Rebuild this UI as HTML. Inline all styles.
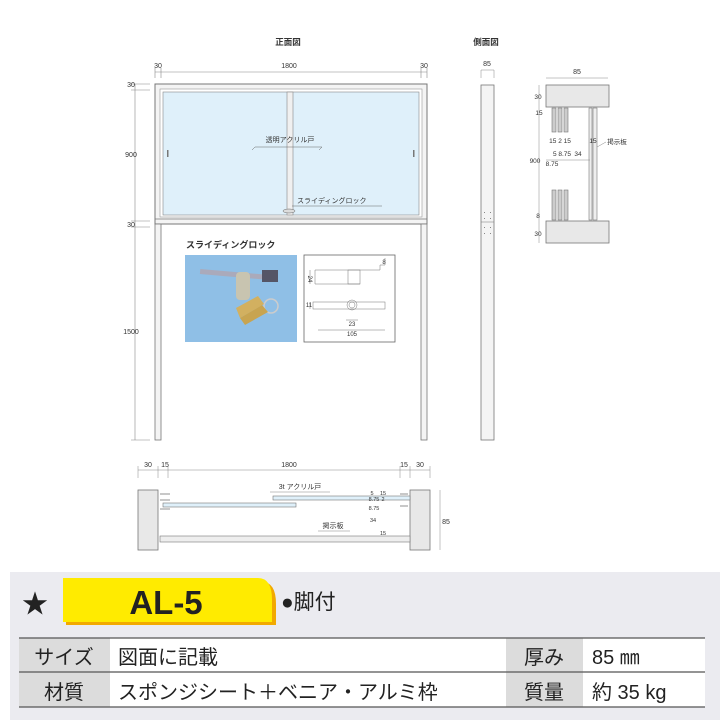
<!DOCTYPE html>
<html><head><meta charset="utf-8"><style>
html,body{margin:0;padding:0;background:#fff;width:720px;height:720px;overflow:hidden}
svg{display:block}
text{font-family:"Liberation Sans","Noto Sans CJK JP",sans-serif;fill:#333}
</style></head><body>
<svg width="720" height="720" viewBox="0 0 720 720" xmlns="http://www.w3.org/2000/svg">
<rect width="720" height="720" fill="#fff"/>
<!-- FRONT VIEW -->
<text x="288" y="45" font-size="8.5" text-anchor="middle" font-weight="bold">正面図</text>
<g stroke="#888" stroke-width="0.6" fill="none">
<line x1="155" y1="72" x2="427" y2="72"/>
<line x1="155" y1="68" x2="155" y2="78"/><line x1="161" y1="68" x2="161" y2="78"/>
<line x1="421" y1="68" x2="421" y2="78"/><line x1="427" y1="68" x2="427" y2="78"/>
<line x1="135" y1="84" x2="135" y2="440"/>
<line x1="131" y1="84" x2="150" y2="84"/><line x1="131" y1="90" x2="150" y2="90"/>
<line x1="131" y1="221" x2="150" y2="221"/><line x1="131" y1="227" x2="150" y2="227"/>
<line x1="131" y1="440" x2="150" y2="440"/>
</g>
<g font-size="7" text-anchor="middle">
<text x="158" y="68">30</text><text x="289" y="68">1800</text><text x="424" y="68">30</text>
<text x="131" y="87">30</text><text x="131" y="157">900</text><text x="131" y="227">30</text><text x="131" y="334">1500</text>
</g>
<!-- frame -->
<rect x="155" y="84" width="272" height="140" fill="#f4f4f4" stroke="#777" stroke-width="1"/>
<rect x="160" y="89" width="262" height="128" fill="#fff" stroke="#999" stroke-width="0.6"/>
<rect x="163" y="92" width="256" height="123" fill="#dff0fa" stroke="#888" stroke-width="0.6"/>
<rect x="287" y="92" width="6" height="123" fill="#f0f0f0" stroke="#888" stroke-width="0.6"/>
<line x1="155" y1="219" x2="427" y2="219" stroke="#777" stroke-width="0.8"/>
<rect x="167" y="150" width="1.5" height="7" fill="#777"/><rect x="413" y="150" width="1.5" height="7" fill="#777"/>
<text x="290" y="142" font-size="7" text-anchor="middle">透明アクリル戸</text>
<path d="M252 150 L255 147 L322 147 L319 150" stroke="#666" stroke-width="0.5" fill="none"/>
<text x="297" y="203" font-size="7">スライディングロック</text>
<line x1="292" y1="206" x2="382" y2="206" stroke="#666" stroke-width="0.5"/>
<ellipse cx="289" cy="211" rx="6" ry="2" fill="#ddd" stroke="#666" stroke-width="0.5"/>
<!-- legs -->
<rect x="155" y="224" width="6" height="216" fill="#f4f4f4" stroke="#777" stroke-width="0.8"/>
<rect x="421" y="224" width="6" height="216" fill="#f4f4f4" stroke="#777" stroke-width="0.8"/>
<!-- lock photo -->
<text x="186" y="248" font-size="9" font-weight="bold">スライディングロック</text>
<rect x="185" y="255" width="112" height="87" fill="#8fbfe6"/>
<rect x="200" y="272" width="70" height="5" fill="#aab" transform="rotate(5 235 274)"/>
<rect x="236" y="272" width="14" height="28" rx="4" fill="#c8c4b0"/>
<rect x="262" y="270" width="16" height="12" fill="#556"/>
<circle cx="271" cy="306" r="7" fill="none" stroke="#ccc" stroke-width="1.5"/>
<path d="M240 318 L262 305 L268 312 L245 325 Z" fill="#c8a450"/>
<path d="M236 308 L258 296 L264 304 L240 318 Z" fill="#d2b060"/>
<!-- lock diagram -->
<rect x="304" y="255" width="91" height="87" fill="#fff" stroke="#666" stroke-width="0.8"/>
<g stroke="#777" stroke-width="0.5" fill="none">
<path d="M315 270 L380 270 L380 265 L385 265 L385 258"/>
<line x1="315" y1="270" x2="315" y2="284"/><line x1="315" y1="284" x2="360" y2="284"/>
<rect x="348" y="270" width="12" height="14"/>
<rect x="313" y="302" width="72" height="7"/>
<circle cx="352" cy="305" r="5"/><circle cx="352" cy="305" r="3"/>
<line x1="310" y1="270" x2="310" y2="284"/><line x1="310" y1="302" x2="310" y2="309"/>
<line x1="346" y1="320" x2="358" y2="320"/><line x1="318" y1="330" x2="385" y2="330"/>
</g>
<g font-size="6" text-anchor="middle"><text x="308" y="279" transform="rotate(90 308 279)">24</text>
<text x="384" y="264">8</text><text x="352" y="326">23</text><text x="352" y="336">105</text><text x="309" y="307">11</text></g>
<!-- SIDE VIEW -->
<text x="486" y="45" font-size="8.5" text-anchor="middle" font-weight="bold">側面図</text>
<text x="487" y="66" font-size="7" text-anchor="middle">85</text>
<path d="M481 78 L481 70 L494 70 L494 78" stroke="#888" stroke-width="0.5" fill="none"/>
<rect x="481" y="85" width="13" height="355" fill="#f4f4f4" stroke="#777" stroke-width="0.8"/>
<line x1="481" y1="222" x2="494" y2="222" stroke="#777" stroke-width="0.5"/>
<g fill="#888"><rect x="484" y="212" width="1" height="1"/><rect x="490" y="212" width="1" height="1"/><rect x="484" y="218" width="1" height="1"/><rect x="490" y="218" width="1" height="1"/><rect x="484" y="227" width="1" height="1"/><rect x="490" y="227" width="1" height="1"/><rect x="484" y="233" width="1" height="1"/><rect x="490" y="233" width="1" height="1"/></g>
<!-- side detail -->
<text x="577" y="74" font-size="7" text-anchor="middle">85</text>
<line x1="546" y1="78" x2="608" y2="78" stroke="#888" stroke-width="0.5"/>
<rect x="546" y="85" width="63" height="22" fill="#e8e8e8" stroke="#777" stroke-width="0.8"/>
<rect x="546" y="221" width="63" height="22" fill="#e8e8e8" stroke="#777" stroke-width="0.8"/>
<g stroke="#777" stroke-width="0.6" fill="#ccc">
<rect x="552" y="108" width="4" height="24"/><rect x="558" y="108" width="4" height="24"/><rect x="564" y="108" width="4" height="24"/>
<rect x="552" y="190" width="4" height="30"/><rect x="558" y="190" width="4" height="30"/><rect x="564" y="190" width="4" height="30"/>
<rect x="589" y="108" width="3" height="112" fill="#eee"/><rect x="593" y="108" width="4" height="112" fill="#eee"/>
</g>
<g stroke="#888" stroke-width="0.5"><line x1="539" y1="85" x2="539" y2="243"/><line x1="546" y1="160" x2="590" y2="160"/><line x1="597" y1="147" x2="606" y2="142"/></g>
<g font-size="6.5" text-anchor="middle">
<text x="538" y="99">30</text><text x="539" y="115">15</text><text x="535" y="163">900</text><text x="538" y="218">8</text><text x="538" y="236">30</text>
<text x="560" y="143">15 2 15</text><text x="562" y="156">5 8.75</text><text x="552" y="166">8.75</text><text x="578" y="156">34</text><text x="593" y="143">15</text>
<text x="617" y="144">掲示板</text></g>
<!-- BOTTOM PLAN -->
<g stroke="#888" stroke-width="0.5" fill="none">
<line x1="138" y1="470" x2="430" y2="470"/>
<line x1="138" y1="466" x2="138" y2="478"/><line x1="158" y1="466" x2="158" y2="478"/><line x1="168" y1="466" x2="168" y2="478"/>
<line x1="400" y1="466" x2="400" y2="478"/><line x1="410" y1="466" x2="410" y2="478"/><line x1="430" y1="466" x2="430" y2="478"/>
<line x1="440" y1="490" x2="440" y2="550"/>
</g>
<g font-size="7" text-anchor="middle">
<text x="148" y="467">30</text><text x="165" y="467">15</text><text x="289" y="467">1800</text><text x="404" y="467">15</text><text x="420" y="467">30</text>
<text x="446" y="524">85</text></g>
<rect x="138" y="490" width="20" height="60" fill="#e8e8e8" stroke="#777" stroke-width="0.8"/>
<rect x="410" y="490" width="20" height="60" fill="#e8e8e8" stroke="#777" stroke-width="0.8"/>
<rect x="163" y="503" width="133" height="4" fill="#dff0fa" stroke="#777" stroke-width="0.6"/>
<rect x="273" y="496" width="137" height="4" fill="#dff0fa" stroke="#777" stroke-width="0.6"/>
<rect x="160" y="536" width="250" height="6" fill="#eee" stroke="#777" stroke-width="0.6"/>
<g stroke="#777" stroke-width="0.8"><line x1="160" y1="494" x2="170" y2="494"/><line x1="160" y1="500" x2="170" y2="500"/><line x1="160" y1="509" x2="170" y2="509"/><line x1="400" y1="494" x2="408" y2="494"/><line x1="400" y1="506" x2="408" y2="506"/></g>
<text x="300" y="489" font-size="7" text-anchor="middle">3t アクリル戸</text>
<line x1="270" y1="492" x2="330" y2="492" stroke="#666" stroke-width="0.4"/>
<text x="333" y="528" font-size="7" text-anchor="middle">掲示板</text>
<line x1="318" y1="531" x2="350" y2="531" stroke="#666" stroke-width="0.4"/>
<g font-size="5.5" text-anchor="middle"><text x="372" y="495">5</text><text x="383" y="495">15</text><text x="374" y="501">8.75</text><text x="383" y="501">2</text><text x="374" y="510">8.75</text><text x="373" y="522">34</text><text x="383" y="535">15</text></g>
<!-- BOTTOM PANEL -->
<rect x="10" y="572" width="710" height="148" fill="#ebebf0"/>
<text x="22" y="613" font-size="26" style="fill:#222">★</text>
<path d="M66 625 L276 625 L276 604 Q276 582 262 582 L66 582 Z" fill="#f2a900"/>
<path d="M63 622 L272 622 L272 600 Q272 578 258 578 L63 578 Z" fill="#ffeb00"/>
<text x="166" y="614" font-size="33" font-weight="bold" text-anchor="middle" style="fill:#222">AL-5</text>
<text x="281" y="609" font-size="21" style="fill:#222">●脚付</text>
<!-- table -->
<rect x="19" y="638" width="686" height="69" fill="#fff"/>
<rect x="19" y="638" width="91" height="69" fill="#dcdcdc"/>
<rect x="506" y="638" width="77" height="69" fill="#dcdcdc"/>
<g stroke="#555" stroke-width="1.2"><line x1="19" y1="638" x2="705" y2="638"/><line x1="19" y1="672" x2="705" y2="672"/><line x1="19" y1="707" x2="705" y2="707"/></g>
<g font-size="20" style="fill:#222">
<text x="64" y="664" text-anchor="middle" style="fill:#222">サイズ</text>
<text x="64" y="699" text-anchor="middle" style="fill:#222">材質</text>
<text x="118" y="664" style="fill:#222">図面に記載</text>
<text x="118" y="699" style="fill:#222">スポンジシート＋ベニア・アルミ枠</text>
<text x="544" y="664" text-anchor="middle" style="fill:#222">厚み</text>
<text x="544" y="699" text-anchor="middle" style="fill:#222">質量</text>
<text x="592" y="664" style="fill:#222">85 ㎜</text>
<text x="592" y="699" style="fill:#222">約 35 kg</text>
</g>
</svg>
</body></html>
